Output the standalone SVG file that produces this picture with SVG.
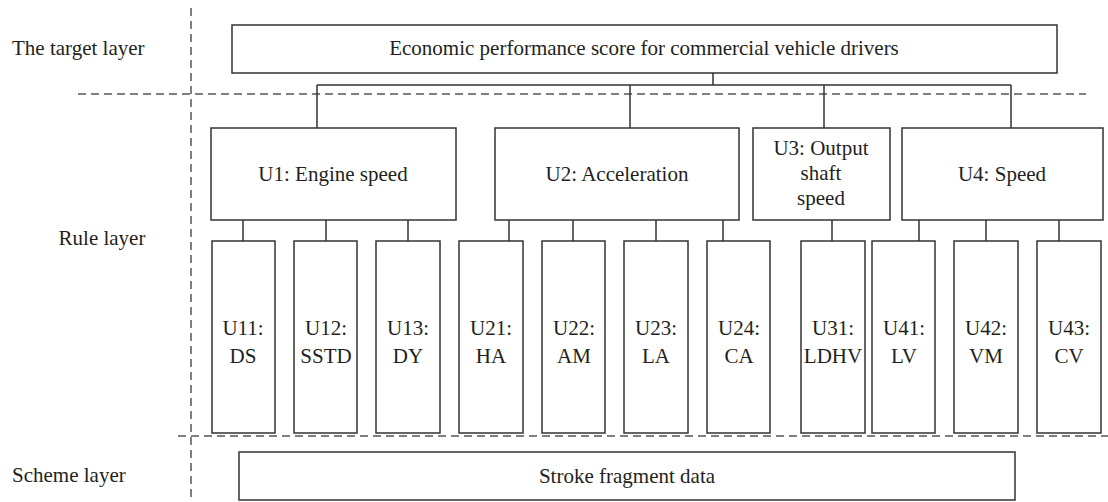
<svg xmlns="http://www.w3.org/2000/svg" width="1108" height="502" viewBox="0 0 1108 502">
<style>
.box{fill:#fff;stroke:#333;stroke-width:1.5}
.dash{stroke:#555;stroke-width:1.5;stroke-dasharray:8,5;fill:none}
.ln{stroke:#333;stroke-width:1.5;fill:none}
text{font-family:"Liberation Serif","Times New Roman",serif;font-size:21px;fill:#231f20;text-anchor:middle}
.lbl{text-anchor:start}
</style>
<rect width="1108" height="502" fill="#fff"/>
<g id="layers">
<line class="dash" x1="191" y1="8" x2="191" y2="497"/>
<line class="dash" x1="78" y1="94" x2="1086" y2="94"/>
<line class="dash" x1="178" y1="436" x2="1108" y2="436"/>
<text class="lbl" x="12" y="55">The target layer</text>
<text x="102" y="245">Rule layer</text>
<text class="lbl" x="12" y="482">Scheme layer</text>
</g>
<g id="connectors">
<path class="ln" d="M713 73V85M317 85H1011M317 85V128M630 85V128M824 85V128M1011 85V128"/>
<path class="ln" d="M243 220V241M326 220V241M408 220V241M509 220V241M573 220V241M656 220V241M723 220V241M832 220V241M919 220V241M986 220V241M1059 220V241"/>
</g>
<g id="target"><rect class="box" x="232" y="25" width="825" height="48"/><text x="644" y="55">Economic performance score for commercial vehicle drivers</text></g>
<g id="U1"><rect class="box" x="211" y="128" width="245" height="92"/><text x="333" y="181">U1: Engine speed</text></g>
<g id="U2"><rect class="box" x="495" y="128" width="244" height="92"/><text x="617" y="181">U2: Acceleration</text></g>
<g id="U3"><rect class="box" x="753" y="128" width="137" height="92"/><text x="821" y="155">U3: Output</text><text x="821" y="180">shaft</text><text x="821" y="205">speed</text></g>
<g id="U4"><rect class="box" x="902" y="128" width="201" height="92"/><text x="1002" y="181">U4: Speed</text></g>
<g id="U11"><rect class="box" x="212" y="241" width="63" height="192"/><text x="243" y="335">U11:</text><text x="243" y="363">DS</text></g>
<g id="U12"><rect class="box" x="294" y="241" width="63" height="192"/><text x="326" y="335">U12:</text><text x="326" y="363">SSTD</text></g>
<g id="U13"><rect class="box" x="376" y="241" width="64" height="192"/><text x="408" y="335">U13:</text><text x="408" y="363">DY</text></g>
<g id="U21"><rect class="box" x="459" y="241" width="64" height="192"/><text x="491" y="335">U21:</text><text x="491" y="363">HA</text></g>
<g id="U22"><rect class="box" x="542" y="241" width="63" height="192"/><text x="574" y="335">U22:</text><text x="574" y="363">AM</text></g>
<g id="U23"><rect class="box" x="624" y="241" width="64" height="192"/><text x="656" y="335">U23:</text><text x="656" y="363">LA</text></g>
<g id="U24"><rect class="box" x="707" y="241" width="63" height="192"/><text x="739" y="335">U24:</text><text x="739" y="363">CA</text></g>
<g id="U31"><rect class="box" x="801" y="241" width="64" height="192"/><text x="833" y="335">U31:</text><text x="833" y="363">LDHV</text></g>
<g id="U41"><rect class="box" x="872" y="241" width="63" height="192"/><text x="904" y="335">U41:</text><text x="904" y="363">LV</text></g>
<g id="U42"><rect class="box" x="954" y="241" width="64" height="192"/><text x="986" y="335">U42:</text><text x="986" y="363">VM</text></g>
<g id="U43"><rect class="box" x="1037" y="241" width="64" height="192"/><text x="1069" y="335">U43:</text><text x="1069" y="363">CV</text></g>
<g id="scheme"><rect class="box" x="239" y="452" width="776" height="48"/><text x="627" y="483">Stroke fragment data</text></g>
</svg>
